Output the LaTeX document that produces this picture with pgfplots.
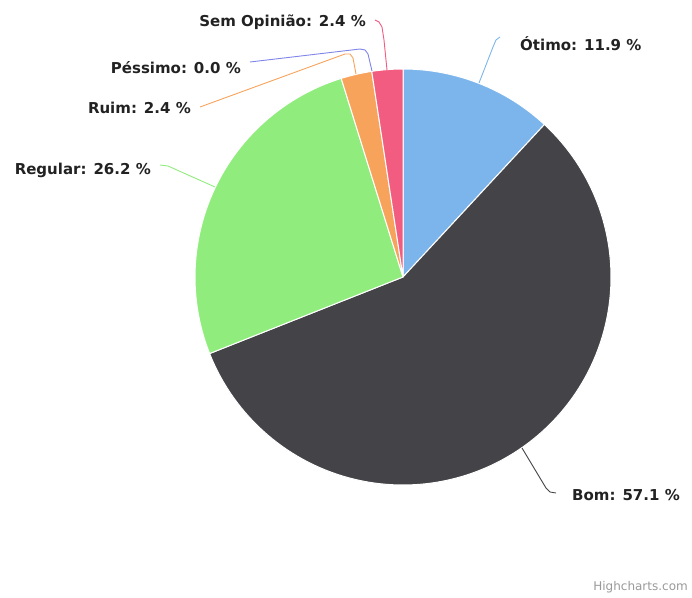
\documentclass[border=0pt]{standalone}
\usepackage{pgfplots}
\pgfplotsset{compat=1.18}
\usepackage{fontspec}
\setmainfont{DejaVu Sans}
\definecolor{cOtimo}{HTML}{7CB5EC}
\definecolor{cBom}{HTML}{434348}
\definecolor{cRegular}{HTML}{90ED7D}
\definecolor{cRuim}{HTML}{F7A35C}
\definecolor{cPessimo}{HTML}{8085E9}
\definecolor{cSem}{HTML}{F15C80}
\definecolor{txt}{HTML}{222222}
% slice values (percent)
\def\vOtimo{11.9}
\def\vBom{57.1}
\def\vRegular{26.2}
\def\vRuim{2.4}
\def\vPessimo{0.0}
\def\vSem{2.4}
\pgfmathsetmacro\aA{90}
\pgfmathsetmacro\aB{\aA-3.6*\vOtimo}
\pgfmathsetmacro\aC{\aB-3.6*\vBom}
\pgfmathsetmacro\aD{\aC-3.6*\vRegular}
\pgfmathsetmacro\aE{\aD-3.6*\vRuim}
\pgfmathsetmacro\aF{\aE-3.6*\vPessimo}
\pgfmathsetmacro\aG{\aF-3.6*\vSem}
\tikzset{lbl/.style={font=\fontsize{15bp}{16bp}\selectfont\bfseries,text=txt,inner sep=0pt}}
\begin{document}
\begin{tikzpicture}
\useasboundingbox (0,0) rectangle (692bp,598bp);
\begin{axis}[at={(0,0)},anchor=south west,x=1bp,y=1bp,xmin=0,xmax=692,ymin=0,ymax=598,
  hide axis,clip=false]
\addplot[fill=cOtimo,draw=white,line width=1bp,domain=\aB:\aA,samples=40,variable=\t] ({403+208*cos(\t)},{321+208*sin(\t)}) -- (axis cs:403,321) -- cycle;
\addplot[fill=cBom,draw=white,line width=1bp,domain=\aC:\aB,samples=120,variable=\t] ({403+208*cos(\t)},{321+208*sin(\t)}) -- (axis cs:403,321) -- cycle;
\addplot[fill=cRegular,draw=white,line width=1bp,domain=\aD:\aC,samples=60,variable=\t] ({403+208*cos(\t)},{321+208*sin(\t)}) -- (axis cs:403,321) -- cycle;
\addplot[fill=cRuim,draw=white,line width=1bp,domain=\aE:\aD,samples=10,variable=\t] ({403+208*cos(\t)},{321+208*sin(\t)}) -- (axis cs:403,321) -- cycle;
\addplot[fill=cSem,draw=white,line width=1bp,domain=\aG:\aF,samples=10,variable=\t] ({403+208*cos(\t)},{321+208*sin(\t)}) -- (axis cs:403,321) -- cycle;
% connectors
\addplot[cSem,line width=0.9bp] coordinates {(375,578) (379,576) (382,571) (384,558) (387,528)};
\addplot[cPessimo,line width=0.9bp] coordinates {(250,536) (360,549) (365,548) (368,544) (372,527)};
\addplot[cRuim,line width=0.9bp] coordinates {(200,491) (345,544) (350,544) (353,540) (356,524)};
\addplot[cRegular,line width=0.9bp] coordinates {(160,433) (168,432) (215,411)};
\addplot[cOtimo,line width=0.9bp] coordinates {(500,561) (496,558) (493,551) (479,515)};
\addplot[cBom,line width=0.9bp] coordinates {(522,150) (546,110) (550,106) (556,105)};
% labels
\node[lbl,anchor=east] at (axis cs:366,576) {Sem Opinião: 2.4 \%};
\node[lbl,anchor=east] at (axis cs:241,530) {Péssimo: 0.0 \%};
\node[lbl,anchor=east] at (axis cs:191,490) {Ruim: 2.4 \%};
\node[lbl,anchor=east] at (axis cs:151,428) {Regular: 26.2 \%};
\node[lbl,anchor=west] at (axis cs:520,554) {Ótimo: 11.9 \%};
\node[lbl,anchor=west] at (axis cs:572,103) {Bom: 57.1 \%};
\node[anchor=east,inner sep=0pt,font=\fontsize{12bp}{13bp}\selectfont,text=black!40] at (axis cs:688,11) {Highcharts.com};
\end{axis}
\end{tikzpicture}
\end{document}
